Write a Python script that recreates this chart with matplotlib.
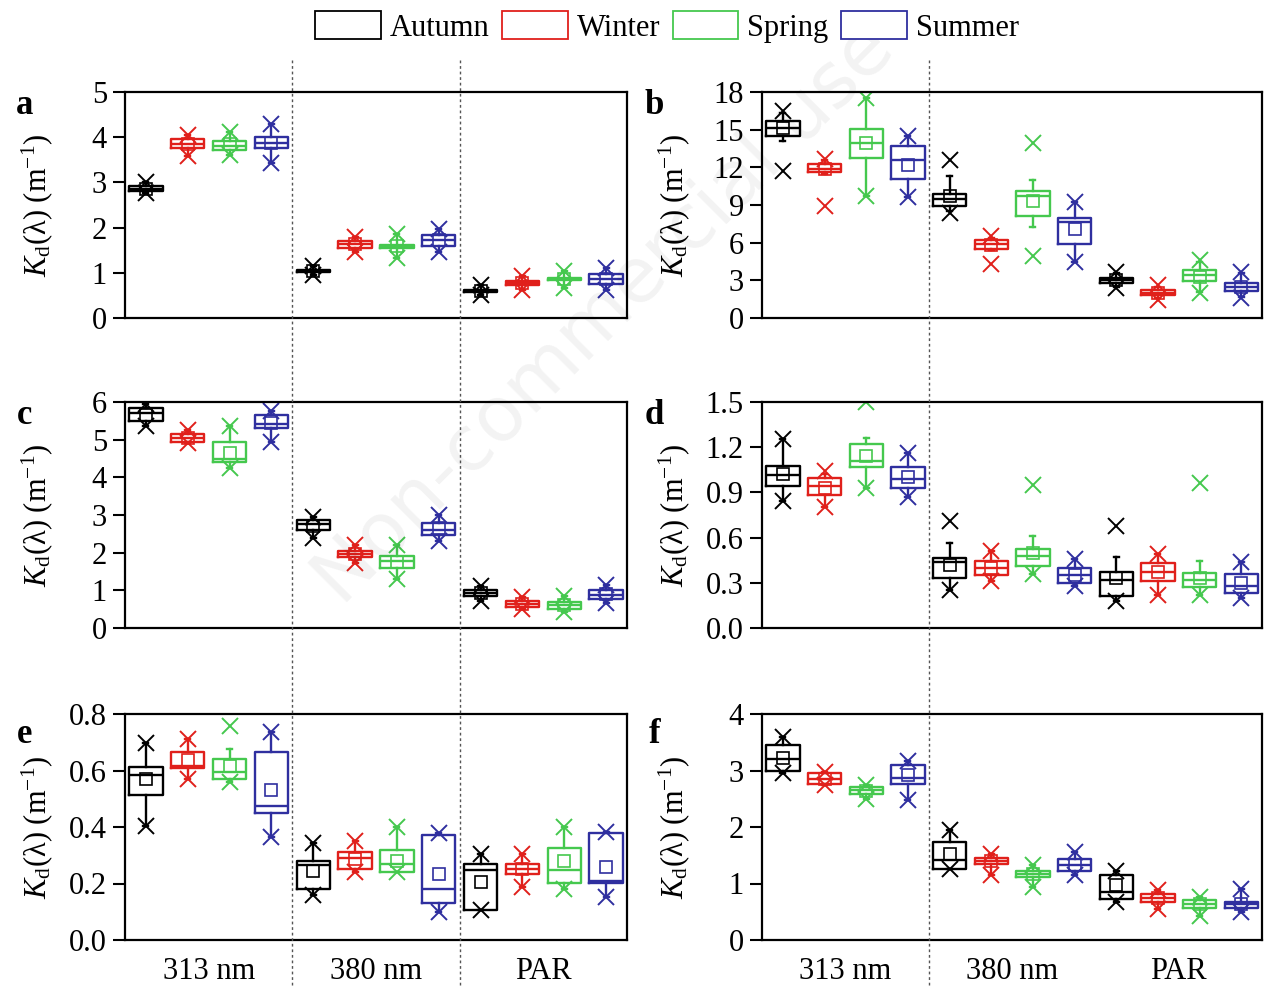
import matplotlib.pyplot as plt
from matplotlib.patches import Patch
from matplotlib.lines import Line2D

plt.rcParams['font.family'] = ['Liberation Serif', 'DejaVu Serif']
plt.rcParams['mathtext.fontset'] = 'custom'
plt.rcParams['mathtext.rm'] = 'Liberation Serif'
plt.rcParams['mathtext.it'] = 'Liberation Serif:italic'

seasons = ['Autumn', 'Winter', 'Spring', 'Summer']
colors = ['black', '#e0201b', '#45c84e', '#2f2f9f']
groups = ['313 nm', '380 nm', 'PAR']

# each list: 313 nm (Au, Wi, Sp, Su), 380 nm (...), PAR (...)
a_q1 = [2.81, 3.77, 3.71, 3.77, 1.02, 1.55, 1.55, 1.60, 0.58, 0.73, 0.84, 0.76]
a_med = [2.86, 3.85, 3.80, 3.87, 1.04, 1.63, 1.58, 1.72, 0.60, 0.77, 0.86, 0.87]
a_q3 = [2.92, 3.95, 3.92, 4.01, 1.07, 1.70, 1.62, 1.84, 0.62, 0.82, 0.89, 0.97]
a_mean = [2.85, 3.86, 3.84, 3.87, 1.04, 1.63, 1.60, 1.73, 0.60, 0.77, 0.87, 0.87]
a_min = [2.76, 3.58, 3.60, 3.42, 0.95, 1.45, 1.32, 1.45, 0.50, 0.62, 0.66, 0.62]
a_max = [3.00, 4.05, 4.12, 4.30, 1.15, 1.80, 1.85, 1.98, 0.72, 0.92, 1.05, 1.10]
a_lo, a_hi = a_min, a_max

b_q1 = [14.5, 11.6, 12.75, 11.1, 8.9, 5.5, 8.1, 5.9, 2.8, 1.87, 2.95, 2.15]
b_med = [15.15, 11.9, 13.9, 12.6, 9.45, 5.9, 9.7, 7.65, 3.0, 2.0, 3.45, 2.5]
b_q3 = [15.7, 12.3, 15.05, 13.7, 9.9, 6.25, 10.1, 8.0, 3.2, 2.2, 3.85, 2.8]
b_mean = [15.1, 11.85, 13.9, 12.2, 9.7, 5.85, 9.3, 7.1, 3.0, 2.0, 3.3, 2.5]
b_lo = [14.1, 11.5, 9.7, 9.6, 8.5, 5.4, 7.25, 4.5, 2.5, 1.6, 2.1, 1.7]
b_hi = [16.3, 12.6, 17.5, 14.5, 11.3, 6.4, 11.0, 9.2, 3.6, 2.5, 4.5, 3.6]
b_min = [11.7, 8.9, 9.7, 9.6, 8.4, 4.3, 4.9, 4.5, 2.4, 1.4, 2.0, 1.6]
b_max = [16.5, 12.7, 17.5, 14.5, 12.6, 6.5, 13.95, 9.2, 3.7, 2.6, 4.6, 3.7]

c_q1 = [5.5, 4.95, 4.4, 5.3, 2.61, 1.88, 1.58, 2.48, 0.85, 0.56, 0.5, 0.78]
c_med = [5.72, 5.05, 4.5, 5.42, 2.75, 1.97, 1.77, 2.61, 0.93, 0.65, 0.6, 0.88]
c_q3 = [5.85, 5.15, 4.95, 5.65, 2.88, 2.05, 1.9, 2.78, 1.0, 0.72, 0.7, 1.0]
c_mean = [5.65, 5.05, 4.65, 5.45, 2.72, 1.97, 1.75, 2.65, 0.93, 0.65, 0.62, 0.9]
c_min = [5.35, 4.9, 4.25, 4.95, 2.4, 1.73, 1.3, 2.31, 0.72, 0.5, 0.42, 0.66]
c_max = [5.95, 5.25, 5.35, 5.75, 2.95, 2.2, 2.2, 3.0, 1.12, 0.82, 0.85, 1.15]
c_lo, c_hi = c_min, c_max

d_q1 = [0.94, 0.88, 1.067, 0.93, 0.333, 0.355, 0.411, 0.30, 0.21, 0.31, 0.273, 0.23]
d_med = [1.015, 0.94, 1.11, 0.99, 0.44, 0.40, 0.48, 0.35, 0.318, 0.375, 0.32, 0.28]
d_q3 = [1.073, 0.993, 1.222, 1.07, 0.467, 0.444, 0.527, 0.40, 0.37, 0.43, 0.367, 0.36]
d_mean = [1.02, 0.93, 1.14, 1.0, 0.418, 0.40, 0.50, 0.35, 0.33, 0.37, 0.33, 0.30]
d_lo = [0.84, 0.80, 0.93, 0.87, 0.255, 0.31, 0.36, 0.28, 0.18, 0.22, 0.22, 0.20]
d_hi = [1.255, 1.02, 1.26, 1.16, 0.567, 0.51, 0.61, 0.46, 0.47, 0.49, 0.444, 0.44]
d_min = [0.84, 0.80, 0.93, 0.87, 0.255, 0.31, 0.36, 0.28, 0.177, 0.22, 0.22, 0.20]
d_max = [1.255, 1.04, 1.50, 1.16, 0.711, 0.51, 0.95, 0.46, 0.68, 0.49, 0.96, 0.44]

e_q1 = [0.513, 0.608, 0.569, 0.45, 0.18, 0.25, 0.24, 0.13, 0.107, 0.232, 0.203, 0.203]
e_med = [0.585, 0.616, 0.596, 0.474, 0.265, 0.29, 0.27, 0.18, 0.247, 0.25, 0.247, 0.21]
e_q3 = [0.614, 0.667, 0.64, 0.667, 0.28, 0.31, 0.32, 0.37, 0.268, 0.268, 0.325, 0.377]
e_mean = [0.569, 0.636, 0.616, 0.531, 0.245, 0.285, 0.28, 0.235, 0.205, 0.25, 0.28, 0.26]
e_lo = [0.405, 0.569, 0.558, 0.365, 0.16, 0.24, 0.24, 0.10, 0.107, 0.187, 0.181, 0.151]
e_hi = [0.697, 0.711, 0.676, 0.738, 0.345, 0.35, 0.40, 0.38, 0.306, 0.306, 0.40, 0.383]
e_min = e_lo
e_max = [0.697, 0.711, 0.756, 0.738, 0.345, 0.35, 0.40, 0.38, 0.306, 0.306, 0.40, 0.383]

f_q1 = [3.0, 2.76, 2.58, 2.76, 1.26, 1.35, 1.11, 1.22, 0.73, 0.68, 0.57, 0.57]
f_med = [3.2, 2.85, 2.65, 2.86, 1.42, 1.40, 1.17, 1.32, 0.85, 0.75, 0.64, 0.63]
f_q3 = [3.45, 2.95, 2.70, 3.09, 1.73, 1.46, 1.23, 1.44, 1.15, 0.82, 0.71, 0.67]
f_mean = [3.22, 2.85, 2.64, 2.92, 1.53, 1.40, 1.17, 1.33, 0.97, 0.75, 0.64, 0.64]
f_min = [2.95, 2.75, 2.5, 2.48, 1.26, 1.15, 0.93, 1.15, 0.67, 0.55, 0.43, 0.49]
f_max = [3.6, 2.98, 2.75, 3.16, 1.94, 1.53, 1.32, 1.56, 1.23, 0.89, 0.76, 0.91]
f_lo, f_hi = f_min, f_max

panels = [
    ('a', a_q1, a_med, a_q3, a_mean, a_lo, a_hi, a_min, a_max, 5, [0, 1, 2, 3, 4, 5], '%d'),
    ('b', b_q1, b_med, b_q3, b_mean, b_lo, b_hi, b_min, b_max, 18, [0, 3, 6, 9, 12, 15, 18], '%d'),
    ('c', c_q1, c_med, c_q3, c_mean, c_lo, c_hi, c_min, c_max, 6, [0, 1, 2, 3, 4, 5, 6], '%d'),
    ('d', d_q1, d_med, d_q3, d_mean, d_lo, d_hi, d_min, d_max, 1.5, [0, 0.3, 0.6, 0.9, 1.2, 1.5], '%.1f'),
    ('e', e_q1, e_med, e_q3, e_mean, e_lo, e_hi, e_min, e_max, 0.8, [0, 0.2, 0.4, 0.6, 0.8], '%.1f'),
    ('f', f_q1, f_med, f_q3, f_mean, f_lo, f_hi, f_min, f_max, 4, [0, 1, 2, 3, 4], '%d'),
]

W, H = 1264, 992
fig = plt.figure(figsize=(W / 100, H / 100), dpi=100)

col_left = [125, 762]
col_width = [502, 500]
row_top = [92, 402, 714]
row_h = 226

axes = []
for k, (letter, q1, med, q3, mean, lo, hi, mn, mx, ymax, yt, fmt) in enumerate(panels):
    r, c = k // 2, k % 2
    rect = [col_left[c] / W, 1 - (row_top[r] + row_h) / H, col_width[c] / W, row_h / H]
    ax = fig.add_axes(rect)
    axes.append(ax)
    for s in range(4):
        col = colors[s]
        idx = [g * 4 + s for g in range(3)]
        pos = [g + 0.125 + 0.25 * s for g in range(3)]
        stats = [dict(q1=q1[i], med=med[i], q3=q3[i], whislo=lo[i], whishi=hi[i],
                      mean=mean[i], fliers=[]) for i in idx]
        lp = dict(color=col, lw=1.7)
        ax.bxp(stats, positions=pos, widths=0.2, showmeans=True, manage_ticks=False,
               boxprops=lp, medianprops=lp, whiskerprops=lp, capprops=lp, capwidths=0.03,
               meanprops=dict(marker='s', mfc='none', mec=col, ms=8, mew=1.2))
        ax.plot(pos, [mn[i] for i in idx], ls='none', marker='x', color=col, ms=11, mew=1.4)
        ax.plot(pos, [mx[i] for i in idx], ls='none', marker='x', color=col, ms=11, mew=1.4)

    ax.set_xlim(0, 3)
    ax.set_ylim(0, ymax)
    ax.set_yticks(yt)
    ax.set_yticklabels([fmt % v for v in yt])
    ax.tick_params(axis='y', direction='out', length=9, width=1.5, labelsize=22, pad=4)
    for sp in ax.spines.values():
        sp.set_linewidth(1.6)
    if r == 2:
        ax.set_xticks([0.5, 1.5, 2.5])
        ax.set_xticklabels(groups)
        ax.tick_params(axis='x', length=0, labelsize=22, pad=12)
    else:
        ax.set_xticks([])
    ax.set_ylabel(r'$K_{\mathrm{d}}(\mathrm{\lambda})$ (m$^{\mathrm{-1}}$)', fontsize=22)
    ax.yaxis.set_label_coords(-0.14, 0.5)
    ax.text(-0.2 if c == 0 else -0.215, 0.94 if r < 2 else 0.91, letter, transform=ax.transAxes,
            fontsize=25, fontweight='bold', ha='center', va='center')

# dotted separators between wavelength groups, running across each column
inv = fig.transFigure.inverted()
for ax, seps in [(axes[0], [1, 2]), (axes[1], [1])]:
    for xs in seps:
        xf = inv.transform(ax.transData.transform((xs, 0)))[0]
        fig.add_artist(Line2D([xf, xf], [1 - 60 / H, 1 - 985 / H], transform=fig.transFigure,
                              color='#555555', lw=1.0, ls=(0, (2, 2)), zorder=2))

handles = [Patch(facecolor='white', edgecolor=col, lw=1.3) for col in colors]
fig.legend(handles, seasons, loc='center', bbox_to_anchor=(667 / W, 1 - 27 / H), ncol=4,
           frameon=False, fontsize=22, handlelength=2.15, handleheight=1.0,
           handletextpad=0.3, columnspacing=0.4)

fig.text(605 / W, 1 - 315 / H, 'Non-commercial use', rotation=45, fontsize=55,
         family='DejaVu Sans', color='black', alpha=0.05, ha='center', va='center')

fig.savefig('out.png', dpi=100)
